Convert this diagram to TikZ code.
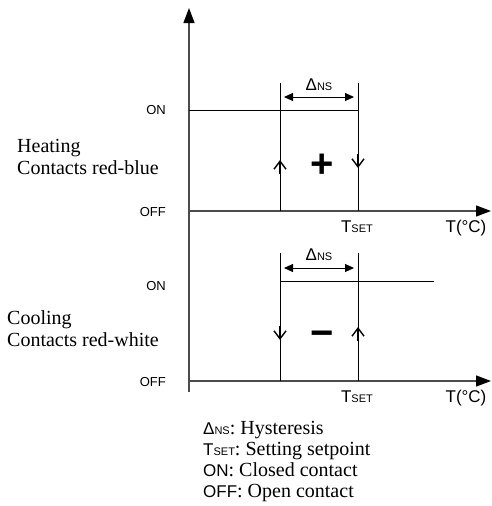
\documentclass[tikz,border=0pt]{standalone}
\usepackage{fontspec}
\setmainfont{Liberation Serif}
\setsansfont{Liberation Sans}
\usetikzlibrary{arrows.meta}
\newcommand\smc[1]{{\fontsize{11}{11}\selectfont #1}}
\newcommand\sfbig{\sffamily\fontsize{17}{21}\selectfont}
\begin{document}
\begin{tikzpicture}[x=1pt,y=-1pt,
  axisline/.style={draw=black!70, line width=1.3pt, -{Triangle[length=15pt,width=11pt,color=black]}},
  sig/.style={draw=black, line width=1pt},
  dimline/.style={line width=1pt, {Triangle[length=9pt,width=8pt]}-{Triangle[length=9pt,width=8pt]}},
  chev/.style={line width=1.4pt, -{Straight Barb[length=8pt,width=12pt]}},
  lab/.style={font=\sffamily\fontsize{13}{14}\selectfont, inner sep=0},
  big/.style={font=\sffamily\fontsize{17}{17}\selectfont, inner sep=0},
  desc/.style={font=\fontsize{20}{22}\selectfont, align=left, anchor=west, inner sep=0},
  legendtext/.style={font=\fontsize{20}{21}\selectfont, align=left, anchor=west, inner sep=0},
  sign/.style={font=\sffamily\bfseries\fontsize{40}{40}\selectfont, inner sep=0, anchor=base}]
\useasboundingbox (0,0) rectangle (491,506);
% coordinates
\coordinate (Vb) at (189,392);
\coordinate (Vt) at (189,8);
\coordinate (H0) at (189,211);
\coordinate (H1) at (491,211);
\coordinate (C0) at (189,381);
\coordinate (C1) at (491,381);
\coordinate (HonL) at (189,110);
\coordinate (HonR) at (358,110);
\coordinate (HaT) at (280,83);
\coordinate (HaB) at (280,211);
\coordinate (HbT) at (358,83);
\coordinate (HbB) at (358,211);
\coordinate (CaT) at (280,253);
\coordinate (CaB) at (280,381);
\coordinate (CbT) at (358,253);
\coordinate (CbB) at (358,381);
\coordinate (ConL) at (280,281);
\coordinate (ConR) at (434,281);
\coordinate (HdL) at (284,97);
\coordinate (HdR) at (354,97);
\coordinate (CdL) at (284,268);
\coordinate (CdR) at (354,268);
% axes
\draw[axisline] (Vb) -- (Vt);
\draw[axisline] (H0) -- (H1);
\draw[axisline] (C0) -- (C1);
% heating
\draw[sig] (HonL) -- (HonR);
\draw[sig] (HaT) -- (HaB);
\draw[sig] (HbT) -- (HbB);
\draw[dimline] (HdL) -- (HdR);
\coordinate (ha1) at (280,174); \coordinate (ha2) at (280,160);
\coordinate (hb1) at (358,154); \coordinate (hb2) at (358,168);
\draw[chev] (ha1) -- (ha2);
\draw[chev] (hb1) -- (hb2);
% cooling
\draw[sig] (ConL) -- (ConR);
\draw[sig] (CaT) -- (CaB);
\draw[sig] (CbT) -- (CbB);
\draw[dimline] (CdL) -- (CdR);
\coordinate (ca1) at (280,326); \coordinate (ca2) at (280,340);
\coordinate (cb1) at (358,341); \coordinate (cb2) at (358,327);
\draw[chev] (ca1) -- (ca2);
\draw[chev] (cb1) -- (cb2);
% signs
\node[sign] (plus) at (322,177) {+};
\node[sign] (minus) at (322,346) {−};
% labels
\node[lab, anchor=east] (hon) at (166,110) {ON};
\node[lab, anchor=east] (hoff) at (166,212) {OFF};
\node[lab, anchor=east] (con) at (166,286) {ON};
\node[lab, anchor=east] (coff) at (166,382) {OFF};
\node[big] (hdn) at (319,85) {Δ\smc{NS}};
\node[big] (cdn) at (319,255) {Δ\smc{NS}};
\node[big] (hts) at (357,227) {T\smc{SET}};
\node[big] (cts) at (357,397) {T\smc{SET}};
\node[big] (htc) at (466,228) {T(°C)};
\node[big] (ctc) at (466,398) {T(°C)};
\node[desc] (hdesc) at (17,157) {Heating\\Contacts red-blue};
\node[desc] (cdesc) at (7,329) {Cooling\\Contacts red-white};
\node[legendtext] (legend) at (203,462) {{\sfbig Δ\smc{NS}}: Hysteresis\\
{\sfbig T\smc{SET}}: Setting setpoint\\
{\sfbig ON}: Closed contact\\
{\sfbig OFF}: Open contact};
\end{tikzpicture}
\end{document}
